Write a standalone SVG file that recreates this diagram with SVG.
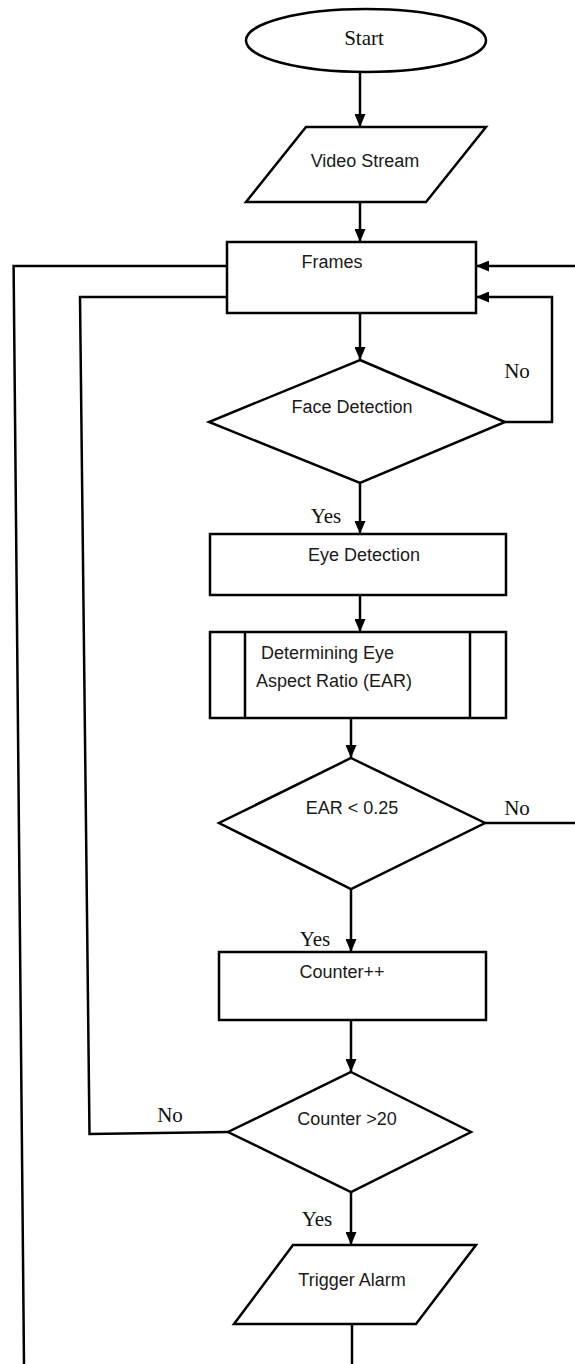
<svg xmlns="http://www.w3.org/2000/svg" width="575" height="1364" viewBox="0 0 575 1364">
<style>
.s{fill:#fff;stroke:#000;stroke-width:2.5}
.c{fill:none;stroke:#000;stroke-width:2.5}
.t{font-family:"Liberation Sans",Arial,sans-serif;font-size:18px;fill:#1a1a1a;text-anchor:middle}
.tl{font-family:"Liberation Sans",Arial,sans-serif;font-size:18px;fill:#1a1a1a}
.r{font-family:"Liberation Serif","Times New Roman",serif;font-size:21px;fill:#111;text-anchor:middle}
</style>
<defs>
<marker id="ah" viewBox="0 0 13 11" refX="13" refY="5.5" markerWidth="13" markerHeight="11" markerUnits="userSpaceOnUse" orient="auto">
<path d="M0,0 L13,5.5 L0,11 Z" fill="#000"/>
</marker>
</defs>
<rect width="575" height="1364" fill="#fff"/>
<g id="connectors">
<line class="c" x1="360" y1="72" x2="360" y2="127" marker-end="url(#ah)"/>
<line class="c" x1="360" y1="202" x2="360" y2="242" marker-end="url(#ah)"/>
<line class="c" x1="360" y1="313" x2="360" y2="360" marker-end="url(#ah)"/>
<polyline class="c" points="505,422 552,422 552,297 476,297" marker-end="url(#ah)"/>
<line class="c" x1="575" y1="266" x2="476" y2="266" marker-end="url(#ah)"/>
<line class="c" x1="360" y1="483" x2="360" y2="534" marker-end="url(#ah)"/>
<line class="c" x1="360" y1="595" x2="360" y2="632" marker-end="url(#ah)"/>
<line class="c" x1="351" y1="718" x2="351" y2="758" marker-end="url(#ah)"/>
<line class="c" x1="485" y1="823" x2="575" y2="823"/>
<line class="c" x1="351" y1="889" x2="351" y2="952" marker-end="url(#ah)"/>
<line class="c" x1="351" y1="1020" x2="351" y2="1072" marker-end="url(#ah)"/>
<polyline class="c" points="228,1132 89.5,1134 80,297 227,297"/>
<polyline class="c" points="227,266 13.6,266 24,1364"/>
<line class="c" x1="351" y1="1192" x2="351" y2="1245" marker-end="url(#ah)"/>
<line class="c" x1="352" y1="1324" x2="352" y2="1364"/>
<text class="r" x="517" y="378">No</text>
<text class="r" x="326" y="523">Yes</text>
<text class="r" x="517" y="815">No</text>
<text class="r" x="315" y="946">Yes</text>
<text class="r" x="170" y="1122">No</text>
<text class="r" x="317" y="1226">Yes</text>
</g>
<g id="start">
<ellipse class="s" cx="366" cy="40.5" rx="120" ry="31.5"/>
<text class="r" x="364" y="45">Start</text>
</g>
<g id="video-stream">
<polygon class="s" points="306,127 486,127 426,202 246,202"/>
<text class="t" x="365" y="167">Video Stream</text>
</g>
<g id="frames">
<rect class="s" x="227" y="242" width="249" height="71"/>
<text class="t" x="332" y="268">Frames</text>
</g>
<g id="face-detection">
<polygon class="s" points="360,360 505,422 360,483 209,422"/>
<text class="t" x="352" y="413">Face Detection</text>
</g>
<g id="eye-detection">
<rect class="s" x="210" y="534" width="296" height="61"/>
<text class="t" x="364" y="561">Eye Detection</text>
</g>
<g id="determining-ear">
<rect class="s" x="210" y="632" width="296" height="86"/>
<line class="c" x1="245" y1="632" x2="245" y2="718"/>
<line class="c" x1="470" y1="632" x2="470" y2="718"/>
<text class="tl" x="261" y="659">Determining Eye</text>
<text class="tl" x="256" y="687">Aspect Ratio (EAR)</text>
</g>
<g id="ear-check">
<polygon class="s" points="351,758 485,823 351,889 219,823"/>
<text class="t" x="352" y="814">EAR &lt; 0.25</text>
</g>
<g id="counter-inc">
<rect class="s" x="219" y="952" width="267" height="68"/>
<text class="t" x="342" y="978">Counter++</text>
</g>
<g id="counter-check">
<polygon class="s" points="351,1072 471,1132 351,1192 228,1132"/>
<text class="t" x="347" y="1125">Counter &gt;20</text>
</g>
<g id="trigger-alarm">
<polygon class="s" points="293,1245 476,1245 416,1324 234,1324"/>
<text class="t" x="352" y="1286">Trigger Alarm</text>
</g>
</svg>
